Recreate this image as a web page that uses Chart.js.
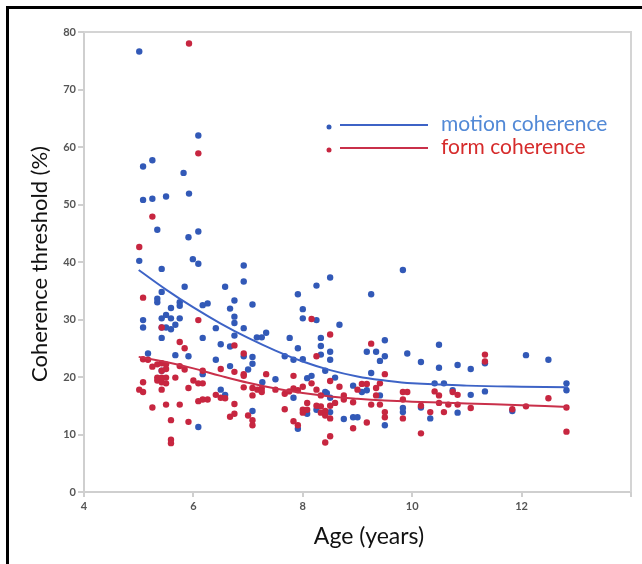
<!DOCTYPE html>
<html>
<head>
<meta charset="utf-8">
<script src="https://cdn.jsdelivr.net/npm/chart.js@4/dist/chart.umd.min.js"></script>
<style>
  html, body { margin: 0; padding: 0; background: #fff; }
  #wrap { width: 642px; height: 564px; }
</style>
</head>
<body>
<div id="wrap"><canvas id="chart" width="642" height="564"></canvas></div>
<script>

// motion coherence thresholds (blue dots)
const motionAge = [
  5.01, 5.08, 5.25, 5.08, 5.25, 5.5, 5.34, 5.82, 5.92, 5.91, 6.09, 6.09, 5.99, 6.09, 5.01,
  5.42, 5.42, 5.34, 5.34, 5.08, 5.08, 5.17, 5.42, 5.42, 5.42, 5.5, 5.59, 5.59, 5.59, 5.5,
  5.67, 5.67, 5.75, 5.75, 5.75, 5.84, 5.91, 6.17, 6.26, 6.17, 6.17, 6.09, 5.42, 6.41, 6.41,
  6.5, 6.5, 6.58, 6.67, 6.67, 6.67, 6.75, 6.75, 6.75, 6.75, 6.92, 6.92, 6.92, 6.92, 7.0,
  7.08, 7.08, 7.08, 7.08, 6.58, 7.16, 7.25, 7.33, 7.26, 7.5, 7.67, 7.76, 7.83, 7.83, 7.91,
  7.91, 7.91, 8.0, 8.0, 8.0, 8.08, 8.08, 8.16, 8.25, 8.25, 8.25, 8.33, 8.33, 8.33, 8.41,
  8.41, 8.5, 8.5, 8.5, 8.5, 8.5, 8.59, 8.67, 8.44, 8.75, 8.92, 8.92, 9.0, 9.08, 9.17,
  9.17, 9.25, 9.25, 9.34, 9.41, 9.41, 9.5, 9.5, 9.5, 9.83, 9.83, 9.83, 9.91, 10.16, 10.16,
  10.33, 10.41, 10.49, 10.49, 10.58, 10.74, 10.83, 10.83, 11.07, 11.07, 11.33, 11.33, 11.83, 12.08, 12.49,
  12.82, 12.82
];
const motionThreshold = [
  76.6, 56.6, 57.7, 50.8, 51.0, 51.4, 45.6, 55.5, 51.9, 44.3, 62.0, 45.3, 40.5, 39.7, 40.2,
  38.8, 34.8, 33.6, 33.0, 29.9, 28.6, 24.1, 30.2, 28.6, 26.8, 30.8, 32.0, 30.2, 28.3, 28.6,
  29.1, 23.8, 30.2, 33.0, 32.4, 35.7, 23.6, 32.5, 32.8, 26.8, 20.5, 11.3, 21.1, 28.5, 23.0,
  25.7, 17.8, 35.7, 31.9, 25.3, 21.9, 33.3, 30.5, 29.4, 27.2, 39.4, 36.6, 28.5, 23.6, 21.3,
  32.6, 23.5, 22.3, 14.1, 16.9, 26.9, 26.9, 27.7, 19.1, 19.6, 23.6, 26.8, 23.0, 16.4, 34.4,
  25.0, 11.0, 31.8, 30.2, 23.1, 19.8, 13.6, 20.2, 35.9, 29.9, 14.3, 26.8, 25.4, 23.9, 21.1,
  17.4, 37.3, 24.4, 23.0, 16.4, 13.9, 19.9, 29.1, 17.2, 12.7, 18.5, 13.0, 13.0, 17.4, 24.4,
  17.7, 34.4, 20.7, 24.4, 22.8, 16.8, 26.4, 23.6, 11.6, 38.6, 14.6, 13.9, 24.1, 22.6, 14.7,
  12.8, 18.9, 25.6, 21.6, 18.9, 17.7, 22.1, 13.8, 21.4, 16.9, 22.4, 17.5, 14.1, 23.8, 23.0,
  18.9, 17.7
];

// form coherence thresholds (red dots)
const formAge = [
  5.92, 6.09, 5.25, 5.01, 5.08, 6.09, 5.42, 5.01, 5.08, 5.08, 5.08, 5.17, 5.25, 5.25, 5.34,
  5.34, 5.34, 5.42, 5.42, 5.42, 5.42, 5.42, 5.5, 5.5, 5.5, 5.5, 5.5, 5.59, 5.59, 5.59,
  5.67, 5.75, 5.75, 5.75, 5.84, 5.84, 5.91, 5.91, 6.0, 6.09, 6.09, 6.17, 6.17, 6.17, 6.26,
  6.41, 6.5, 6.5, 6.58, 6.67, 6.75, 6.75, 6.75, 6.75, 6.92, 6.92, 6.92, 6.92, 7.0, 7.08,
  7.08, 7.08, 7.08, 7.17, 7.25, 7.25, 7.33, 7.5, 7.67, 7.67, 7.75, 7.83, 7.83, 7.83, 7.91,
  7.91, 8.0, 8.0, 8.0, 8.08, 8.08, 8.16, 8.16, 8.25, 8.25, 8.25, 8.33, 8.33, 8.33, 8.41,
  8.41, 8.41, 8.5, 8.5, 8.5, 8.5, 8.5, 8.59, 8.67, 8.75, 8.75, 8.92, 8.92, 9.0, 9.08,
  9.17, 9.17, 9.25, 9.25, 9.34, 9.34, 9.41, 9.41, 9.5, 9.5, 9.5, 9.83, 9.83, 9.83, 9.91,
  10.16, 10.16, 10.33, 10.41, 10.49, 10.49, 10.58, 10.66, 10.74, 10.83, 10.83, 11.07, 11.33, 11.33, 11.83,
  12.08, 12.49, 12.82, 12.82
];
const formThreshold = [
  78.0, 58.9, 47.9, 42.6, 33.8, 29.9, 28.6, 17.8, 17.4, 19.1, 23.1, 23.0, 14.7, 21.8, 22.2,
  19.9, 19.4, 22.4, 21.1, 19.9, 19.1, 17.8, 22.2, 21.4, 19.9, 18.9, 15.2, 12.5, 9.1, 8.5,
  19.9, 26.1, 21.9, 15.2, 25.0, 21.3, 18.1, 12.2, 19.4, 18.9, 15.8, 21.1, 18.9, 16.1, 16.1,
  16.9, 21.4, 16.4, 16.3, 13.1, 25.5, 20.9, 15.3, 13.6, 24.1, 20.5, 20.2, 18.2, 13.3, 18.1,
  16.8, 12.5, 11.6, 17.8, 18.0, 17.4, 20.5, 17.8, 17.1, 14.4, 17.5, 20.2, 18.0, 12.3, 17.7,
  11.6, 18.3, 14.3, 13.8, 15.5, 14.3, 30.1, 18.9, 23.6, 17.8, 15.0, 16.8, 14.9, 13.8, 14.1,
  13.3, 8.6, 27.4, 19.3, 15.0, 12.8, 9.7, 15.5, 18.3, 16.8, 16.1, 15.6, 11.1, 17.8, 18.8,
  18.8, 12.1, 25.8, 15.2, 18.1, 16.8, 18.9, 15.2, 20.5, 13.9, 13.0, 17.4, 16.1, 12.8, 17.4,
  15.0, 10.2, 13.9, 17.5, 16.8, 15.5, 13.9, 15.2, 17.4, 16.9, 15.2, 14.6, 23.9, 22.7, 14.4,
  14.9, 16.3, 14.7, 10.5
];

// fitted curves
const fitAge = [5, 5.5, 6, 6.5, 7, 7.5, 8, 8.5, 9, 9.5, 10, 11, 12, 12.85];
const motionFit = [38.6, 35.2, 32.1, 29.3, 26.8, 24.6, 22.7, 21.2, 20.1, 19.4, 18.9, 18.5, 18.3, 18.2];
const formFit = [23.5, 22.6, 21.5, 20.2, 19.0, 18.0, 17.2, 16.6, 16.2, 15.9, 15.7, 15.4, 15.1, 14.8];

const seriesNames = ['motion coherence', 'form coherence'];
const xTitle = 'Age (years)';
const yTitle = 'Coherence threshold (%)';

const BLUE_DOT = '#3259b7';
const RED_DOT = '#c72640';
const BLUE_LINE = '#3d63c6';
const RED_LINE = '#c9304a';
const BLUE_TEXT = '#5289d6';
const RED_TEXT = '#d62b2b';
const FONT = 'Lato, "Open Sans", sans-serif';

function pairs(xs, ys) {
    return xs.map((x, i) => ({ x: x, y: ys[i] }));
}

// white page, black frame, grey box round the plot, titles and the in-chart legend
const decorPlugin = {
    id: 'decor',
    beforeDraw(chart) {
        const ctx = chart.ctx;
        ctx.save();
        ctx.fillStyle = '#fff';
        ctx.fillRect(0, 0, chart.width, chart.height);
        ctx.restore();
    },
    afterDraw(chart) {
        const ctx = chart.ctx;
        const a = chart.chartArea;
        ctx.save();

        // light grey box (top and right sides)
        ctx.strokeStyle = '#d4d4d4';
        ctx.lineWidth = 2;
        ctx.beginPath();
        ctx.moveTo(a.left, a.top);
        ctx.lineTo(a.right, a.top);
        ctx.lineTo(a.right, a.bottom);
        ctx.stroke();

        // black frame
        ctx.strokeStyle = '#000';
        ctx.lineWidth = 3;
        ctx.beginPath();
        ctx.moveTo(7.5, chart.height);
        ctx.lineTo(7.5, 7.5);
        ctx.lineTo(chart.width, 7.5);
        ctx.stroke();

        // axis titles
        ctx.fillStyle = '#111';
        ctx.font = '23px ' + FONT;
        ctx.textAlign = 'center';
        ctx.textBaseline = 'middle';
        ctx.fillText(xTitle, 369, 537);
        ctx.font = '22px ' + FONT;
        ctx.translate(40, 264);
        ctx.rotate(-Math.PI / 2);
        ctx.fillText(yTitle, 0, 0);
        ctx.setTransform(1, 0, 0, 1, 0, 0);

        // legend
        const rows = [
            { name: seriesNames[0], dot: BLUE_DOT, line: BLUE_LINE, text: BLUE_TEXT, y: 125 },
            { name: seriesNames[1], dot: RED_DOT, line: RED_LINE, text: RED_TEXT, y: 148 }
        ];
        rows.forEach(r => {
            ctx.fillStyle = r.dot;
            ctx.beginPath();
            ctx.arc(329, r.y + 2, 2.5, 0, Math.PI * 2);
            ctx.fill();
            ctx.strokeStyle = r.line;
            ctx.lineWidth = 2;
            ctx.beginPath();
            ctx.moveTo(340, r.y);
            ctx.lineTo(428, r.y);
            ctx.stroke();
            ctx.fillStyle = r.text;
            ctx.font = '21px ' + FONT;
            ctx.textAlign = 'left';
            ctx.textBaseline = 'middle';
            ctx.fillText(r.name, 441, r.y - 1);
        });
        ctx.restore();
    }
};

new Chart(document.getElementById('chart'), {
    type: 'scatter',
    data: {
        datasets: [
            {
                label: seriesNames[0] + ' fit',
                data: pairs(fitAge, motionFit),
                showLine: true,
                borderColor: BLUE_LINE,
                borderWidth: 2,
                pointRadius: 0,
                tension: 0.4,
                order: 0
            },
            {
                label: seriesNames[1] + ' fit',
                data: pairs(fitAge, formFit),
                showLine: true,
                borderColor: RED_LINE,
                borderWidth: 2,
                pointRadius: 0,
                tension: 0.4,
                order: 0
            },
            {
                label: seriesNames[1],
                data: pairs(formAge, formThreshold),
                backgroundColor: RED_DOT,
                borderWidth: 0,
                pointRadius: 3.2,
                order: 1
            },
            {
                label: seriesNames[0],
                data: pairs(motionAge, motionThreshold),
                backgroundColor: BLUE_DOT,
                borderWidth: 0,
                pointRadius: 3.2,
                order: 2
            }
        ]
    },
    options: {
        responsive: false,
        animation: false,
        layout: { padding: { top: 32, right: 11, left: 0, bottom: 0 } },
        plugins: {
            legend: { display: false },
            tooltip: { enabled: false }
        },
        scales: {
            x: {
                type: 'linear',
                min: 4,
                max: 14,
                afterFit: s => { s.height = 72; },
                ticks: {
                    stepSize: 2,
                    padding: 3,
                    color: '#555',
                    font: { family: FONT, size: 11, weight: 'bold' },
                    callback: v => (v === 14 ? '' : v)
                },
                grid: { drawOnChartArea: false, color: '#cfcfcf', lineWidth: 2, tickLength: 5 },
                border: { color: '#cfcfcf', width: 2 }
            },
            y: {
                min: 0,
                max: 80,
                afterFit: s => { s.width = 84; },
                ticks: {
                    stepSize: 10,
                    padding: 2,
                    color: '#555',
                    font: { family: FONT, size: 11, weight: 'bold' }
                },
                grid: { drawOnChartArea: false, color: '#cfcfcf', lineWidth: 2, tickLength: 6 },
                border: { color: '#cfcfcf', width: 2 }
            }
        }
    },
    plugins: [decorPlugin]
});
</script>
</body>
</html>
